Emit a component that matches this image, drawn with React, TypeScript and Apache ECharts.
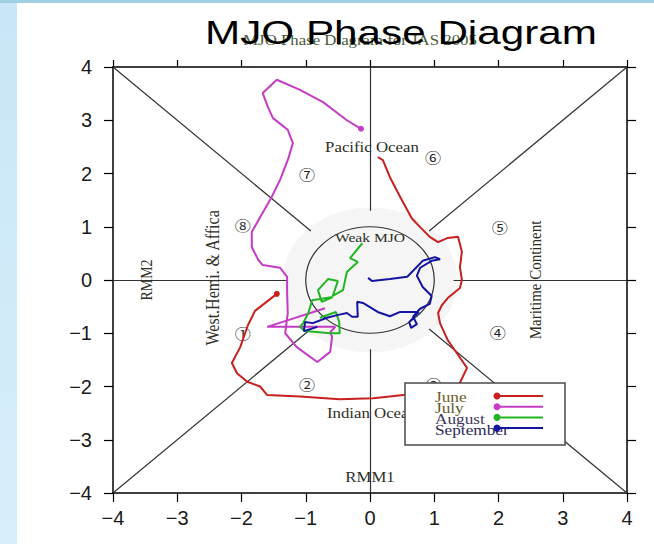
import React, { useEffect, useRef } from "react";
import * as echarts from "echarts";

// ---------- data ----------
const axisMin = -4;
const axisMax = 4;

// RMM1, RMM2 pairs for each month
const june: [number, number][] = [
  [-1.45, -0.26], [-1.79, -0.58], [-1.9, -0.85], [-2.02, -1.26], [-2.15, -1.56], [-2.07, -1.75],
  [-1.91, -1.91], [-1.71, -2.0], [-1.6, -2.16], [-1.09, -2.19], [-0.47, -2.24], [0.05, -2.22],
  [0.52, -2.16], [1.09, -2.1], [1.32, -2.03], [1.4, -1.93], [1.51, -1.65], [1.35, -1.37],
  [1.21, -1.13], [1.09, -0.81], [1.06, -0.62], [1.12, -0.47], [1.21, -0.34], [1.4, -0.15],
  [1.43, 0.0], [1.4, 0.24], [1.43, 0.53], [1.37, 0.81], [1.21, 0.79], [1.06, 0.71],
  [0.93, 0.81], [0.75, 1.03], [0.65, 1.16], [0.47, 1.56], [0.31, 1.93], [0.2, 2.25], [0.12, 2.31],
];
const july: [number, number][] = [
  [-0.14, 2.84], [-0.36, 3.0], [-0.73, 3.34], [-1.09, 3.57], [-1.45, 3.76], [-1.67, 3.51],
  [-1.59, 3.25], [-1.51, 3.04], [-1.28, 2.82], [-1.2, 2.57], [-1.28, 2.25], [-1.4, 1.88],
  [-1.53, 1.56], [-1.71, 1.18], [-1.84, 0.9], [-1.84, 0.62], [-1.74, 0.38], [-1.67, 0.28],
  [-1.4, 0.23], [-1.29, 0.06], [-1.29, -0.24], [-1.28, -0.62], [-1.32, -1.0], [-1.14, -1.26],
  [-0.82, -1.54], [-0.62, -1.35], [-0.59, -1.07], [-0.62, -0.98], [-0.54, -0.88], [-1.6, -0.88],
  [-0.7, -0.53],
];
const august: [number, number][] = [
  [-0.12, 0.69], [-0.31, 0.41], [-0.19, 0.34], [-0.36, 0.15], [-0.42, -0.19], [-0.58, -0.3],
  [-0.5, -0.02], [-0.65, 0.02], [-0.81, -0.19], [-0.75, -0.41], [-0.58, -0.32], [-0.9, -0.38],
  [-0.96, -0.62], [-1.04, -0.81], [-1.09, -0.88], [-1.01, -0.96], [-0.62, -1.0], [-0.47, -1.0],
  [-0.48, -0.79], [-0.53, -0.6], [-0.78, -0.71],
];
const september: [number, number][] = [
  [-0.03, 0.04], [0.03, -0.02], [0.31, 0.02], [0.58, 0.06], [0.82, 0.36], [1.01, 0.43],
  [1.09, 0.39], [0.96, 0.36], [0.78, 0.23], [0.73, 0.08], [0.82, -0.13], [0.96, -0.3],
  [0.93, -0.45], [0.78, -0.54], [0.67, -0.69], [0.73, -0.83], [0.64, -0.9], [0.61, -0.79],
  [0.76, -0.6], [0.47, -0.6], [0.31, -0.68], [0.12, -0.6], [-0.11, -0.43], [-0.2, -0.41],
  [-0.19, -0.69], [-0.28, -0.69], [-0.36, -0.62], [-0.51, -0.66], [-0.67, -0.71], [-0.89, -0.81],
  [-1.01, -0.79], [-1.03, -0.96], [-0.82, -0.88],
];

const monthNames = ["June", "July", "August", "September"];

const phaseSymbols = ["①", "②", "③", "④", "⑤", "⑥", "⑦", "⑧"];
const phaseRMM1 = [-1.98, -0.98, 0.99, 1.99, 2.02, 0.98, -0.98, -1.98];
const phaseRMM2 = [-1.0, -1.96, -1.96, -0.98, 1.0, 2.31, 2.0, 1.03];

const regionNames = ["Pacific Ocean", "Indian Ocean", "Weak MJO", "RMM1", "RMM2", "West.Hemi. & Affica", "Maritime Continent"];
const regionRMM1 = [0.03, 0.03, 0.0, 0.0, -3.47, -2.44, 2.57];
const regionRMM2 = [2.5, -2.5, 0.79, -3.7, 0.0, 0.04, 0.0];

const guideSegments: [number, number][][] = [
  [[-4, 4], [-0.92, 0.92]], [[4, 4], [0.92, 0.92]], [[-4, -4], [-0.92, -0.92]], [[4, -4], [0.92, -0.92]],
  [[-4, 0], [-1.3, 0]], [[1.3, 0], [4, 0]], [[0, 4], [0, 1.3]], [[0, -1.3], [0, -4]],
];
const weakRadius = 1;
const shadeRadius = 1.36;

// ---------- styles ----------
const monthColors = ["#c8201e", "#c43cc4", "#22b522", "#1414a2"];
const legendTextColors = ["#6e5e28", "#5e5a2a", "#3b3560", "#2a2a55"];
const serif = "'Liberation Serif', 'Times New Roman', serif";
const sans = "'Liberation Sans', Arial, sans-serif";
const textInk = "#2e2e26";

export default function App() {
  const ref = useRef<HTMLDivElement>(null);

  useEffect(() => {
    if (!ref.current) return;
    const chart = echarts.init(ref.current, null, { renderer: "svg" });

    const minus = (v: number) => String(v).replace("-", "\u2212");

    const valueAxisBase = {
      type: "value",
      min: axisMin,
      max: axisMax,
      interval: 1,
      splitLine: { show: false },
      axisLine: { show: true, onZero: false, lineStyle: { color: "#000", width: 1.5 } },
      axisTick: { show: true, inside: false, length: 9, lineStyle: { color: "#000", width: 1.2 } },
    };

    const regionData = regionNames.map((n, i) => [regionRMM1[i], regionRMM2[i], i]);
    const phaseData = phaseSymbols.map((s, i) => [phaseRMM1[i], phaseRMM2[i], i]);

    const monthSeries = [june, july, august, september].map((pts, mi) => ({
      type: "line",
      name: monthNames[mi],
      xAxisIndex: 0,
      yAxisIndex: 0,
      showSymbol: true,
      symbol: "none",
      z: 5,
      lineStyle: { color: monthColors[mi], width: 2 },
      itemStyle: { color: monthColors[mi] },
      data: pts.map((p, k) =>
        k === 0 && mi < 2
          ? { value: p, symbol: "circle", symbolSize: 6 }
          : { value: p }
      ),
    }));

    const legendZ = 40;

    chart.setOption({
      animation: false,
      backgroundColor: "#ffffff",
      grid: { left: 113, right: 27, top: 67, bottom: 51, containLabel: false },
      xAxis: [
        {
          ...valueAxisBase,
          position: "bottom",
          axisLabel: { show: true, margin: 15, fontSize: 20, fontFamily: sans, color: "#1a1a1a", formatter: minus },
        },
        {
          ...valueAxisBase,
          position: "top",
          axisTick: { show: true, inside: false, length: 7, lineStyle: { color: "#000", width: 1.2 } },
          axisLabel: { show: false },
        },
      ],
      yAxis: [
        {
          ...valueAxisBase,
          position: "left",
          axisLabel: { show: true, margin: 21, fontSize: 20, fontFamily: sans, color: "#1a1a1a", formatter: minus },
        },
        {
          ...valueAxisBase,
          position: "right",
          axisLabel: { show: false },
        },
      ],
      graphic: [
        {
          type: "rect",
          z: -10,
          silent: true,
          shape: { x: 0, y: 0, width: 17, height: 544 },
          style: {
            fill: new echarts.graphic.LinearGradient(0, 0, 0, 1, [
              { offset: 0, color: "#c8e6f7" },
              { offset: 1, color: "#d8eefa" },
            ]),
          },
        },
        {
          type: "rect",
          z: -10,
          silent: true,
          shape: { x: 0, y: 0, width: 654, height: 3 },
          style: { fill: "#9fd0e2" },
        },
        {
          type: "text",
          z: 50,
          x: 360,
          y: 40,
          scaleX: 1.2,
          style: {
            text: "MJO Phase Diagram for JAS 2005",
            fontSize: 14,
            fontFamily: serif,
            fill: "#4a5a3a",
            textAlign: "center",
            textVerticalAlign: "middle",
            align: "center",
            verticalAlign: "middle",
          },
        },
        {
          type: "text",
          z: 60,
          x: 401,
          y: 33,
          scaleX: 1.28,
          style: {
            text: "MJO Phase Diagram",
            fontSize: 33,
            fontFamily: sans,
            fill: "#000",
            textAlign: "center",
            textVerticalAlign: "middle",
            align: "center",
            verticalAlign: "middle",
          },
        },
        {
          type: "rect",
          z: legendZ,
          shape: { x: 405, y: 383, width: 160, height: 62 },
          style: { fill: "#ffffff", stroke: "#4a4a4a", lineWidth: 1.5 },
        },
        ...monthNames.flatMap((m, i) => [
          {
            type: "text",
            z: legendZ + 1,
            x: 435,
            y: 397 + i * 11,
            scaleX: 1.15,
            style: {
              text: m,
              fontSize: 15,
              fontFamily: serif,
              fill: legendTextColors[i],
              textAlign: "left",
              textVerticalAlign: "middle",
              align: "left",
              verticalAlign: "middle",
            },
          },
          {
            type: "line",
            z: legendZ + 2,
            shape: { x1: 497, y1: 396 + i * 10.7, x2: 543, y2: 396 + i * 10.7 },
            style: { stroke: monthColors[i], lineWidth: 2 },
          },
          {
            type: "circle",
            z: legendZ + 2,
            shape: { cx: 497, cy: 396 + i * 10.7, r: 3.5 },
            style: { fill: monthColors[i] },
          },
        ]),
      ],
      series: [
        {
          type: "custom",
          name: "weak-zone",
          xAxisIndex: 0,
          yAxisIndex: 0,
          silent: true,
          z: 1,
          data: [[0, 0]],
          renderItem: (params: any, api: any) => {
            const c = api.coord([api.value(0), api.value(1)]);
            const s = api.size([1, 1]);
            return {
              type: "group",
              children: [
                {
                  type: "ellipse",
                  shape: { cx: c[0], cy: c[1], rx: s[0] * shadeRadius, ry: s[1] * shadeRadius },
                  style: { fill: "#f5f5f5", stroke: "none" },
                },
                {
                  type: "ellipse",
                  z2: 10,
                  shape: { cx: c[0], cy: c[1], rx: s[0] * weakRadius, ry: s[1] * weakRadius },
                  style: { fill: "none", stroke: "#333", lineWidth: 1.2 },
                },
              ],
            };
          },
        },
        {
          type: "lines",
          coordinateSystem: "cartesian2d",
          xAxisIndex: 0,
          yAxisIndex: 0,
          silent: true,
          z: 2,
          lineStyle: { color: "#333", width: 1.2, opacity: 1 },
          data: guideSegments.map((seg) => ({ coords: seg })),
        },
        ...monthSeries,
        {
          type: "custom",
          name: "phases",
          xAxisIndex: 0,
          yAxisIndex: 0,
          silent: true,
          z: 3,
          data: phaseData,
          renderItem: (params: any, api: any) => {
            const c = api.coord([api.value(0), api.value(1)]);
            const idx = api.value(2);
            return {
              type: "text",
              x: c[0],
              y: c[1],
              scaleX: 1.15,
              style: {
                text: phaseSymbols[idx],
                fontSize: 14,
                fontFamily: "'Noto Sans CJK SC', 'DejaVu Sans', sans-serif",
                fill: "#1e1e1e",
                textAlign: "center",
                textVerticalAlign: "middle",
                align: "center",
                verticalAlign: "middle",
              },
            };
          },
        },
        {
          type: "custom",
          name: "regions",
          xAxisIndex: 0,
          yAxisIndex: 0,
          silent: true,
          z: 4,
          data: regionData,
          renderItem: (params: any, api: any) => {
            const c = api.coord([api.value(0), api.value(1)]);
            const idx = api.value(2);
            const rotated = idx >= 4;
            const sizes = [14, 14, 13, 14, 14, 16, 15];
            return {
              type: "text",
              x: c[0],
              y: c[1],
              rotation: rotated ? Math.PI / 2 : 0,
              scaleX: rotated ? 1 : 1.2,
              scaleY: rotated ? 1.15 : 1,
              style: {
                text: regionNames[idx],
                fontSize: sizes[idx],
                fontFamily: serif,
                fill: textInk,
                textAlign: "center",
                textVerticalAlign: "middle",
                align: "center",
                verticalAlign: "middle",
              },
            };
          },
        },
      ],
    });

    return () => chart.dispose();
  }, []);

  return (
    <div
      ref={ref}
      style={{ position: "absolute", left: 0, top: 0, width: 654, height: 544 }}
    />
  );
}
